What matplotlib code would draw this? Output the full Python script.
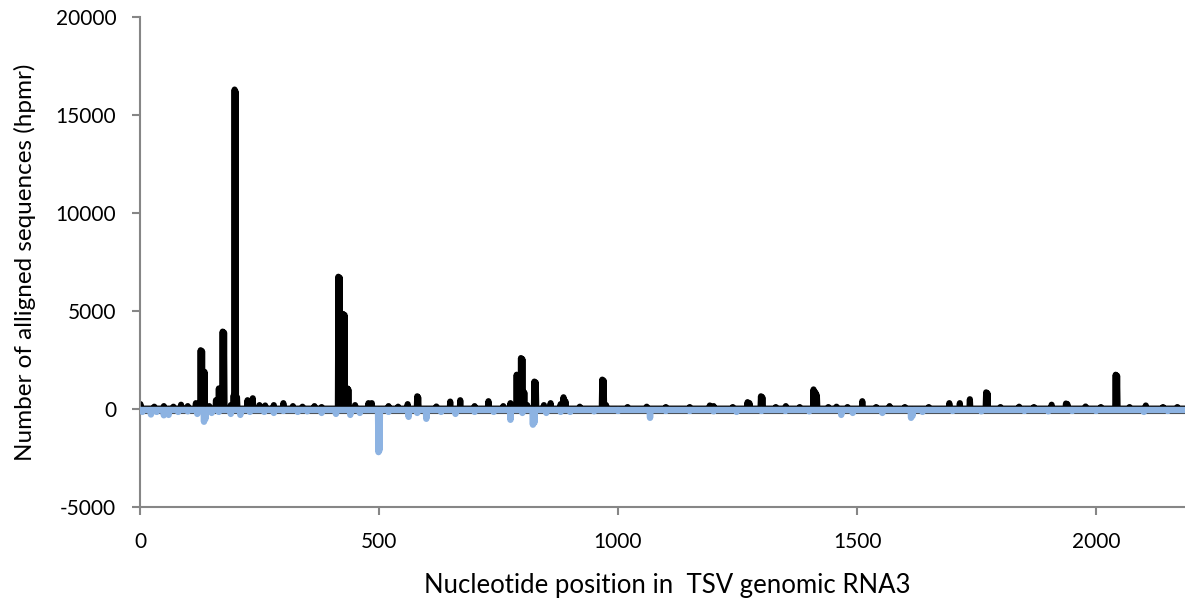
import matplotlib
matplotlib.use("Agg")
import matplotlib.pyplot as plt
import numpy as np

plt.rcParams["font.family"] = ["Lato", "DejaVu Sans"]
plt.rcParams["axes.unicode_minus"] = False

# longitud del eje x (nt) y valores base de cada serie
n_pos = 2186
base_sense = 20
base_antisense = -50

# picos de la serie negra (posicion, hpmr)
sense_pos = [1, 30, 50, 70, 86, 100, 117, 120, 127, 130, 135, 145, 159, 165, 173, 176,
             190, 196, 198, 200, 203, 225, 236, 250, 262, 280, 300, 320, 340, 365, 380,
             415, 418, 425, 428, 434, 436, 450, 478, 485, 520, 540, 560, 580, 582, 620,
             649, 670, 700, 729, 760, 775, 788, 792, 797, 800, 804, 810, 825, 828, 845,
             859, 880, 886, 890, 920, 967, 970, 975, 1020, 1060, 1100, 1150, 1192, 1200,
             1240, 1271, 1275, 1299, 1302, 1330, 1351, 1380, 1409, 1413, 1416, 1440, 1457,
             1480, 1511, 1540, 1568, 1600, 1650, 1693, 1715, 1736, 1770, 1773, 1800, 1839,
             1870, 1907, 1937, 1940, 1978, 2010, 2041, 2044, 2070, 2104, 2140, 2170]
sense_val = [250, 120, 150, 120, 220, 150, 300, 250, 3000, 2950, 1900, 150, 450, 1050, 3950, 3900,
             200, 700, 16300, 16200, 600, 450, 550, 200, 180, 200, 300, 150, 120, 150, 100,
             6750, 6700, 4850, 4800, 1050, 1000, 200, 300, 300, 150, 120, 250, 650, 600, 130,
             380, 450, 150, 400, 150, 300, 1750, 1700, 2600, 2550, 850, 200, 1400, 1350, 200,
             300, 250, 600, 400, 120, 1500, 1450, 200, 100, 120, 100, 100, 180, 150,
             100, 350, 300, 650, 600, 100, 150, 100, 1000, 850, 700, 100, 120,
             100, 400, 100, 150, 100, 100, 300, 300, 500, 850, 800, 100, 120,
             100, 220, 280, 250, 130, 100, 1750, 1700, 100, 180, 100, 100]

# picos de la serie azul (posicion, hpmr)
anti_pos = [5, 23, 35, 50, 60, 80, 100, 120, 134, 137, 150, 165, 190, 210, 230, 260, 280,
            300, 330, 350, 380, 410, 440, 460, 499, 501, 520, 562, 580, 599, 630, 660, 700,
            740, 775, 800, 822, 825, 850, 880, 900, 950, 1000, 1067, 1100, 1150, 1200, 1248,
            1300, 1350, 1400, 1467, 1491, 1553, 1613, 1616, 1637, 1700, 1760, 1850, 1900,
            1950, 2000, 2100, 2150]
anti_val = [-150, -280, -150, -320, -300, -150, -120, -250, -650, -500, -200, -150, -250, -300,
            -150, -150, -200, -100, -150, -120, -200, -250, -300, -200, -2200, -2100, -150, -400,
            -200, -500, -150, -250, -150, -150, -550, -200, -800, -700, -200, -150, -150, -120,
            -100, -450, -100, -100, -120, -150, -100, -100, -120, -300, -200, -200, -450, -350,
            -150, -100, -120, -100, -120, -100, -100, -150, -100]

x = np.arange(n_pos + 1)
sense = np.full(x.shape, base_sense, dtype=float)
sense[sense_pos] = sense_val
anti = np.full(x.shape, base_antisense, dtype=float)
anti[anti_pos] = anti_val

fig = plt.figure(figsize=(11.85, 6.03), dpi=100)
ax = fig.add_axes([0.1181, 0.1592, 0.8819, 0.8126])

ax.plot(x, sense, color="black", lw=4.4, solid_joinstyle="round", solid_capstyle="round", zorder=2)
ax.axhline(-200, color="#404040", lw=0.8, zorder=2.5)
ax.plot(x, anti, color="#8DB3E2", lw=4.6, solid_joinstyle="round", solid_capstyle="round", zorder=3)

ax.set_xlim(0, n_pos)
ax.set_ylim(-5000, 20000)
ax.set_xticks([0, 500, 1000, 1500, 2000])
ax.set_yticks([-5000, 0, 5000, 10000, 15000, 20000])

for s in ["top", "right"]:
    ax.spines[s].set_visible(False)
for s in ["left", "bottom"]:
    ax.spines[s].set_color("#868686")
    ax.spines[s].set_linewidth(1.5)
ax.tick_params(axis="both", direction="out", length=6, width=1.5, color="#868686",
               labelsize=15, labelcolor="black")
ax.tick_params(axis="y", pad=11)
ax.tick_params(axis="x", pad=12)

fig.text(0.563, 0.0166, "Nucleotide position in  TSV genomic RNA3", fontsize=18.5,
         ha="center", va="baseline")
fig.text(0.021, 0.5655, "Number of alligned sequences (hpmr)", fontsize=17.5,
         rotation=90, ha="center", va="center")

fig.savefig("out.png", dpi=100)
